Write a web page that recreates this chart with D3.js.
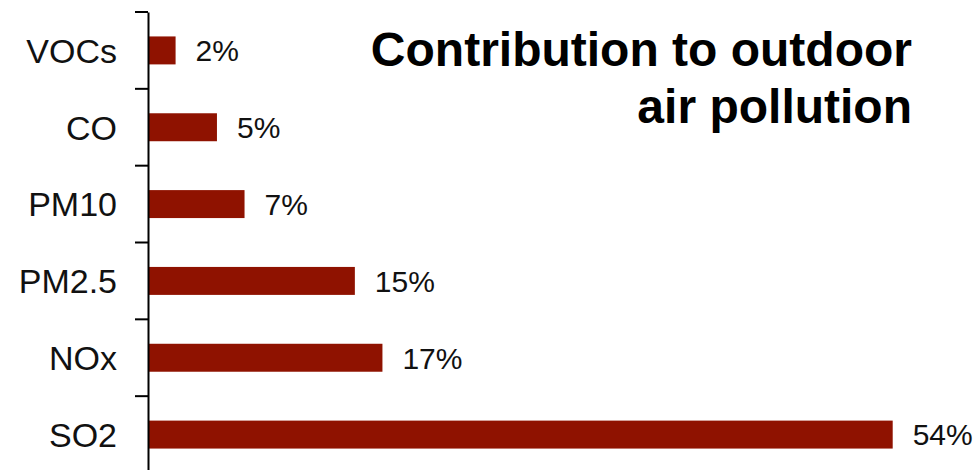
<!DOCTYPE html>
<html>
<head>
<meta charset="utf-8">
<script src="https://cdn.jsdelivr.net/npm/d3@7/dist/d3.min.js"></script>
<style>
  html, body { margin: 0; padding: 0; background: #ffffff; }
  svg { display: block; font-family: "Liberation Sans", Arial, Helvetica, sans-serif; }
</style>
</head>
<body>
<svg id="chart" width="979" height="470"></svg>
<script>
// Share of outdoor air pollution by pollutant
const pollutants = ["VOCs", "CO", "PM10", "PM2.5", "NOx", "SO2"];
const shares = [2, 5, 7, 15, 17, 54];
const titleLines = ["Contribution to outdoor", "air pollution"];

const data = pollutants.map((p, i) => ({ name: p, value: shares[i] }));

const svg = d3.select("#chart");
const axisX = 148, plotTop = 12;

const x = d3.scaleLinear().domain([0, 54]).range([axisX, 892.7]);
const y = d3.scaleBand()
  .domain(pollutants)
  .range([plotTop, 473])
  .paddingInner(0.636)
  .paddingOuter(0.318);

const barColor = "#8f1200";

// Bars
svg.append("g")
  .selectAll("rect")
  .data(data)
  .join("rect")
  .attr("x", x(0))
  .attr("y", d => y(d.name))
  .attr("width", d => x(d.value) - x(0))
  .attr("height", y.bandwidth())
  .attr("fill", barColor);

// Category axis: labels centred on bands, no ticks at label positions
const axis = svg.append("g")
  .attr("transform", `translate(${axisX},0)`)
  .call(d3.axisLeft(y).tickSize(0).tickSizeOuter(0).tickPadding(31));
axis.select(".domain").attr("stroke", "#000").attr("stroke-width", 2);
axis.selectAll(".tick text")
  .attr("fill", "#111")
  .attr("font-size", 34)
  .attr("font-family", "\"Liberation Sans\", Arial, sans-serif")
  .attr("dy", "0.36em");

// Tick marks on band boundaries
const gap = (y.step() - y.bandwidth()) / 2;
svg.append("g")
  .selectAll("line")
  .data(pollutants)
  .join("line")
  .attr("x1", axisX - 13)
  .attr("x2", axisX)
  .attr("y1", d => y(d) - gap)
  .attr("y2", d => y(d) - gap)
  .attr("stroke", "#000")
  .attr("stroke-width", 2);

// Value labels
svg.append("g")
  .selectAll("text")
  .data(data)
  .join("text")
  .attr("x", d => x(d.value) + 20)
  .attr("y", d => y(d.name) + y.bandwidth() / 2)
  .attr("dy", "0.36em")
  .attr("font-size", 30)
  .attr("fill", "#111")
  .text(d => d.value + "%");

// Title
svg.append("g")
  .selectAll("text")
  .data(titleLines)
  .join("text")
  .attr("x", 912)
  .attr("y", (d, i) => 66 + i * 57)
  .attr("text-anchor", "end")
  .attr("font-size", 48)
  .attr("font-weight", "bold")
  .attr("fill", "#000")
  .text(d => d);
</script>
</body>
</html>
